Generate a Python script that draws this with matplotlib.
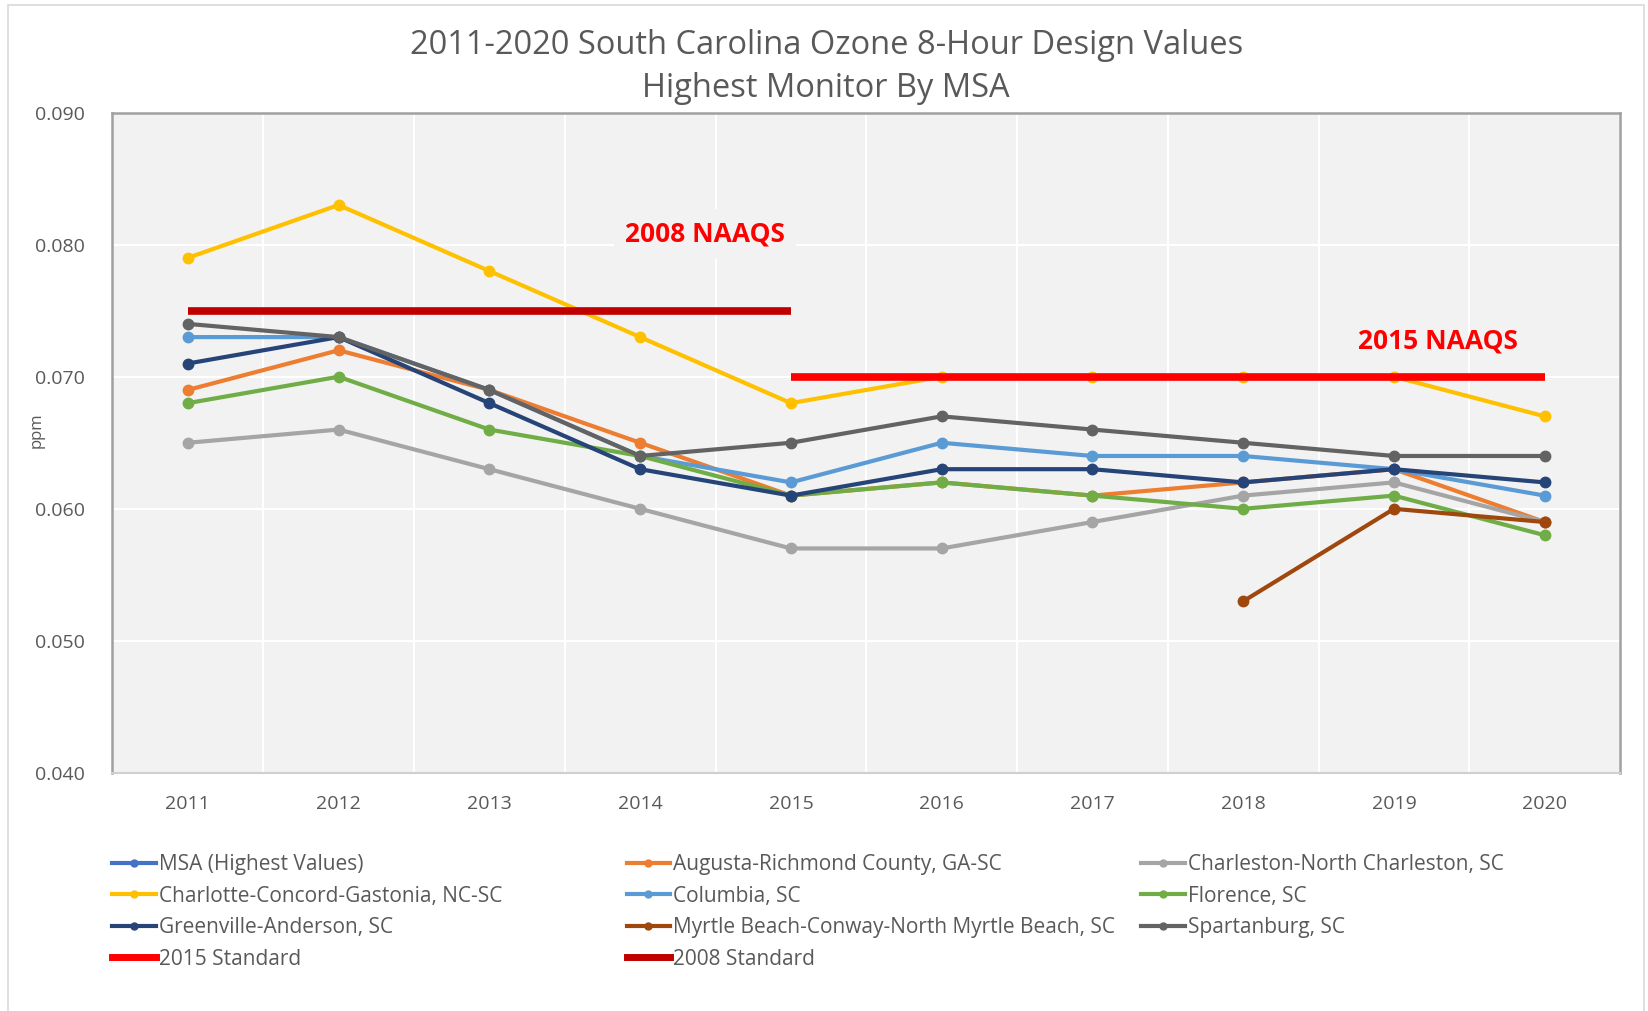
import numpy as np
import matplotlib.pyplot as plt
from matplotlib.patches import Rectangle
from matplotlib.lines import Line2D

plt.rcParams['font.family'] = ['Open Sans', 'DejaVu Sans']

years = ['2011', '2012', '2013', '2014', '2015', '2016', '2017', '2018', '2019', '2020']
nan = np.nan

# design values (ppm), highest monitor by MSA
msa_highest = [nan] * 10
augusta = [0.069, 0.072, 0.069, 0.065, 0.061, 0.062, 0.061, 0.062, 0.063, 0.059]
charleston = [0.065, 0.066, 0.063, 0.060, 0.057, 0.057, 0.059, 0.061, 0.062, 0.059]
charlotte = [0.079, 0.083, 0.078, 0.073, 0.068, 0.070, 0.070, 0.070, 0.070, 0.067]
columbia = [0.073, 0.073, 0.069, 0.064, 0.062, 0.065, 0.064, 0.064, 0.063, 0.061]
florence = [0.068, 0.070, 0.066, 0.064, 0.061, 0.062, 0.061, 0.060, 0.061, 0.058]
greenville = [0.071, 0.073, 0.068, 0.063, 0.061, 0.063, 0.063, 0.062, 0.063, 0.062]
myrtle = [nan, nan, nan, nan, nan, nan, nan, 0.053, 0.060, 0.059]
spartanburg = [0.074, 0.073, 0.069, 0.064, 0.065, 0.067, 0.066, 0.065, 0.064, 0.064]
std_2015 = [nan, nan, nan, nan, 0.070, 0.070, 0.070, 0.070, 0.070, 0.070]
std_2008 = [0.075, 0.075, 0.075, 0.075, 0.075, nan, nan, nan, nan, nan]

series = [
    ('MSA (Highest Values)', msa_highest, '#4472C4'),
    ('Augusta-Richmond County, GA-SC', augusta, '#ED7D31'),
    ('Charleston-North Charleston, SC', charleston, '#A5A5A5'),
    ('Charlotte-Concord-Gastonia, NC-SC', charlotte, '#FFC000'),
    ('Columbia, SC', columbia, '#5B9BD5'),
    ('Florence, SC', florence, '#70AD47'),
    ('Greenville-Anderson, SC', greenville, '#264478'),
    ('Myrtle Beach-Conway-North Myrtle Beach, SC', myrtle, '#9E480E'),
    ('Spartanburg, SC', spartanburg, '#636363'),
]

fig = plt.figure(figsize=(16.49, 10.11), dpi=100)
ax = fig.add_axes([0.0682, 0.2354, 0.9143, 0.6533])
ax.set_facecolor('#F2F2F2')

x = np.arange(len(years))
handles = {}
for name, vals, col in series:
    h, = ax.plot(x, vals, color=col, lw=3, marker='o', ms=7.5, zorder=3)
    handles[name] = h

h15, = ax.plot(x, std_2015, color='#FF0000', lw=5.5, zorder=4, solid_capstyle='butt')
h08, = ax.plot(x, std_2008, color='#C00000', lw=5.5, zorder=4, solid_capstyle='butt')
handles['2015 Standard'] = h15
handles['2008 Standard'] = h08

ax.set_xlim(-0.5, 9.5)
ax.set_ylim(0.040, 0.090)
ax.set_xticks(x)
ax.set_xticklabels(years)
ax.set_xticks(np.arange(-0.5, 9.6, 0.5), minor=True)
ax.set_yticks(np.arange(0.040, 0.0901, 0.010))
ax.set_yticklabels(['%.3f' % v for v in np.arange(0.040, 0.0901, 0.010)])
ax.grid(True, which='minor', axis='x', color='white', lw=1.5, zorder=0)
ax.grid(True, which='major', axis='y', color='white', lw=1.5, zorder=0)
ax.set_axisbelow(True)
ax.tick_params(which='both', length=0)
ax.tick_params(axis='x', pad=16, labelsize=14, labelcolor='#595959')
ax.tick_params(axis='y', pad=20, labelsize=14, labelcolor='#595959')
for s in ['left', 'top', 'right']:
    ax.spines[s].set_color('#A0A0A0')
    ax.spines[s].set_linewidth(1.8)
ax.spines['bottom'].set_color('#D0D0D0')
ax.spines['bottom'].set_linewidth(1.5)

fig.text(0.0225, 0.574, 'ppm', rotation=90, ha='center', va='center', fontsize=12, color='#595959')

ax.text(3.43, 0.0808, '2008 NAAQS', color='#FF0000', fontsize=19, fontweight='bold',
        ha='center', va='center', zorder=5,
        bbox=dict(facecolor='#F2F2F2', edgecolor='none', pad=8))
ax.text(8.29, 0.0727, '2015 NAAQS', color='#FF0000', fontsize=19, fontweight='bold',
        ha='center', va='center', zorder=5)

fig.text(0.501, 0.955, '2011-2020 South Carolina Ozone 8-Hour Design Values',
         ha='center', va='center', fontsize=23.5, color='#595959')
fig.text(0.501, 0.9125, 'Highest Monitor By MSA',
         ha='center', va='center', fontsize=23.5, color='#595959')

# legend, three columns placed like the original
cols = [
    ['MSA (Highest Values)', 'Charlotte-Concord-Gastonia, NC-SC', 'Greenville-Anderson, SC', '2015 Standard'],
    ['Augusta-Richmond County, GA-SC', 'Columbia, SC', 'Myrtle Beach-Conway-North Myrtle Beach, SC', '2008 Standard'],
    ['Charleston-North Charleston, SC', 'Florence, SC', 'Spartanburg, SC'],
]
col_x = [0.068, 0.380, 0.692]
for cx, names in zip(col_x, cols):
    hs = []
    for n in names:
        h = handles[n]
        if 'Standard' in n:
            hs.append(Line2D([], [], color=h.get_color(), lw=5))
        else:
            hs.append(Line2D([], [], color=h.get_color(), lw=3, marker='o', ms=5))
    leg = fig.legend(hs, names, loc='upper left', bbox_to_anchor=(cx, 0.155), frameon=False,
                     fontsize=15, handlelength=2.1, handletextpad=0.15, labelspacing=0.5,
                     borderaxespad=0, borderpad=0)
    for t in leg.get_texts():
        t.set_color('#595959')

fig.patches.append(Rectangle((0.005, -0.01), 0.992, 1.005, transform=fig.transFigure,
                             fill=False, edgecolor='#D9D9D9', lw=1.2))

fig.savefig('out.png', dpi=100, facecolor='white')
